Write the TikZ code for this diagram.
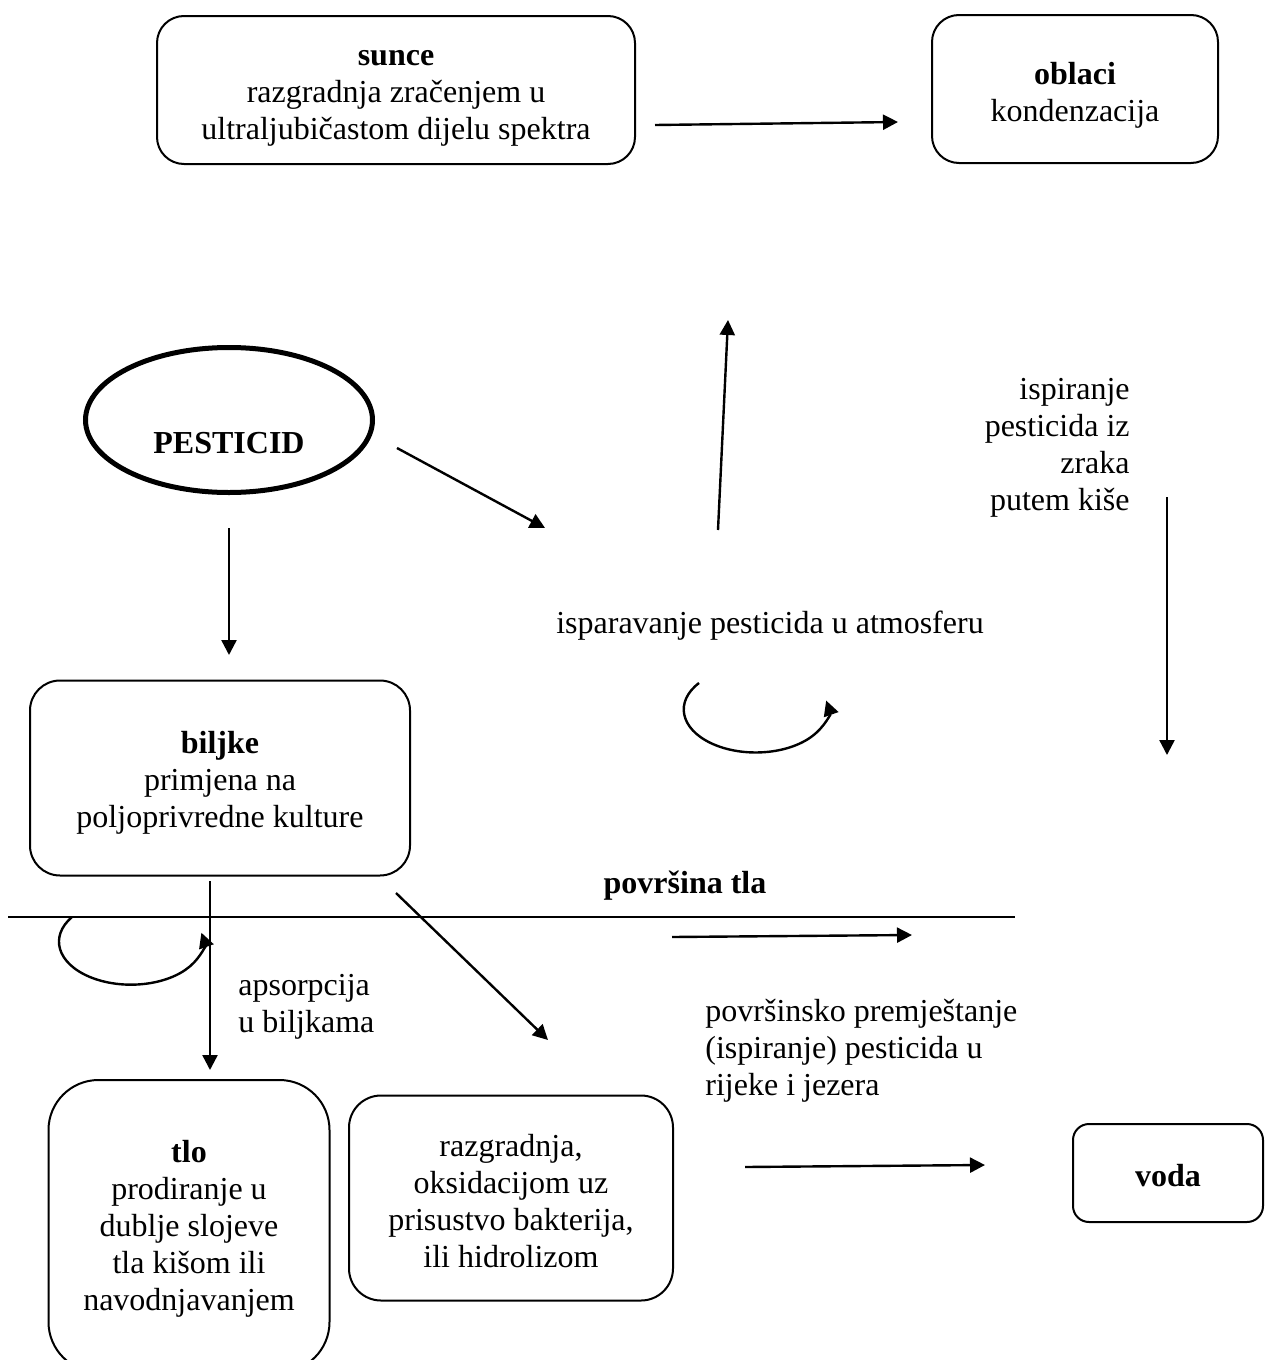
\documentclass[tikz,border=0pt]{standalone}
\usepackage{fontspec}
\setmainfont{Liberation Serif}
\usetikzlibrary{arrows.meta,shapes.geometric}
\newcommand{\vis}[1]{\rule{0pt}{#1}}

\begin{document}
\begin{tikzpicture}[x=0.5pt,y=-0.5pt,>={Triangle[length=7.5pt,width=7.5pt]},
    font=\fontsize{16}{18.5}\selectfont,
    box/.style={draw,line width=1pt,rounded corners=#1,align=center,inner sep=0pt},
    box/.default=13.5pt,
    txt/.style={align=#1,inner sep=0pt},
    tok/.style={->,line width=1.2pt}]
    \useasboundingbox (0,0) rectangle (1265,1360);
    % gornji red
    \node[box,minimum width=239pt,minimum height=74pt] (sunce) at (396,90)
        {\vis{16.3pt}\textbf{sunce}\\razgradnja zračenjem u\\ultraljubičastom dijelu spektra};
    \node[box,minimum width=143pt,minimum height=74pt] (oblaci) at (1075,89)
        {\vis{17pt}\textbf{oblaci}\\kondenzacija};
    % pesticid i biljke
    \node[draw,ellipse,line width=2.5pt,minimum width=143.5pt,minimum height=72.5pt,inner sep=0pt,
        label={[yshift=-11.5pt]center:\textbf{PESTICID}}] (pesticid) at (229,420) {};
    \node[box=15pt,minimum width=190pt,minimum height=97.5pt] (biljke) at (220,778)
        {\vis{16pt}\textbf{biljke}\\primjena na\\poljoprivredne kulture};
    % tlo, razgradnja, voda
    \node[box=25pt,minimum width=140.5pt,minimum height=146pt] (tlo) at (189,1226)
        {\vis{14pt}\textbf{tlo}\\prodiranje u\\dublje slojeve\\tla kišom ili\\navodnjavanjem};
    \node[box=16pt,minimum width=162pt,minimum height=102.5pt] (razgr) at (511,1198)
        {\vis{14pt}razgradnja,\\oksidacijom uz\\prisustvo bakterija,\\ili hidrolizom};
    \node[box=8pt,minimum width=95pt,minimum height=49pt] (voda) at (1168,1173)
        {\vis{14pt}\textbf{voda}};
    % opisi
    \node[txt=center] (ispar) at (770,626) {isparavanje pesticida u atmosferu};
    \node[txt=right,anchor=east] (ispir) at (1130,448) {ispiranje\\pesticida iz\\zraka\\putem kiše};
    \node[txt=center] (povrs) at (685,886) {\textbf{površina tla}};
    \node[txt=left,anchor=west] (apsorp) at (238,1007) {apsorpcija\\u biljkama};
    \node[txt=left,anchor=west] (premj) at (705,1051)
        {površinsko premještanje\\(ispiranje) pesticida u\\rijeke i jezera};
    % krajevi strelica
    \coordinate (uvA) at (655,125);   \coordinate (uvB) at (898,122);
    \coordinate (isA) at (397,448);   \coordinate (isB) at (545,528);
    \coordinate (atA) at (718,530);   \coordinate (atB) at (728,320);
    \coordinate (kiA) at (1167,497);  \coordinate (kiB) at (1167,755);
    \coordinate (peA) at (229,528);   \coordinate (peB) at (229,655);
    \coordinate (biA) at (210,881);   \coordinate (biB) at (210,1070);
    \coordinate (raA) at (396,893);   \coordinate (raB) at (548,1040);
    \coordinate (poA) at (672,937);   \coordinate (poB) at (912,935);
    \coordinate (voA) at (745,1167);  \coordinate (voB) at (985,1165);
    \coordinate (tlaL) at (8,917);    \coordinate (tlaR) at (1015,917);
    \coordinate (petljaA) at (699,683);
    \coordinate (petljaB) at (72,917);
    \draw[line width=1.2pt] (tlaL) -- (tlaR);
    \path[tok]
    (uvA) edge (uvB)
    (isA) edge (isB)
    (atA) edge (atB)
    (kiA) edge (kiB)
    (peA) edge (peB)
    (biA) edge (biB)
    (raA) edge (raB)
    (poA) edge (poB)
    (voA) edge (voB);
    \draw[tok] (petljaA) arc[start angle=142,end angle=372,x radius=36pt,y radius=21.5pt];
    \draw[tok] (petljaB) arc[start angle=145,end angle=372,x radius=36pt,y radius=21.5pt];
\end{tikzpicture}
\end{document}
